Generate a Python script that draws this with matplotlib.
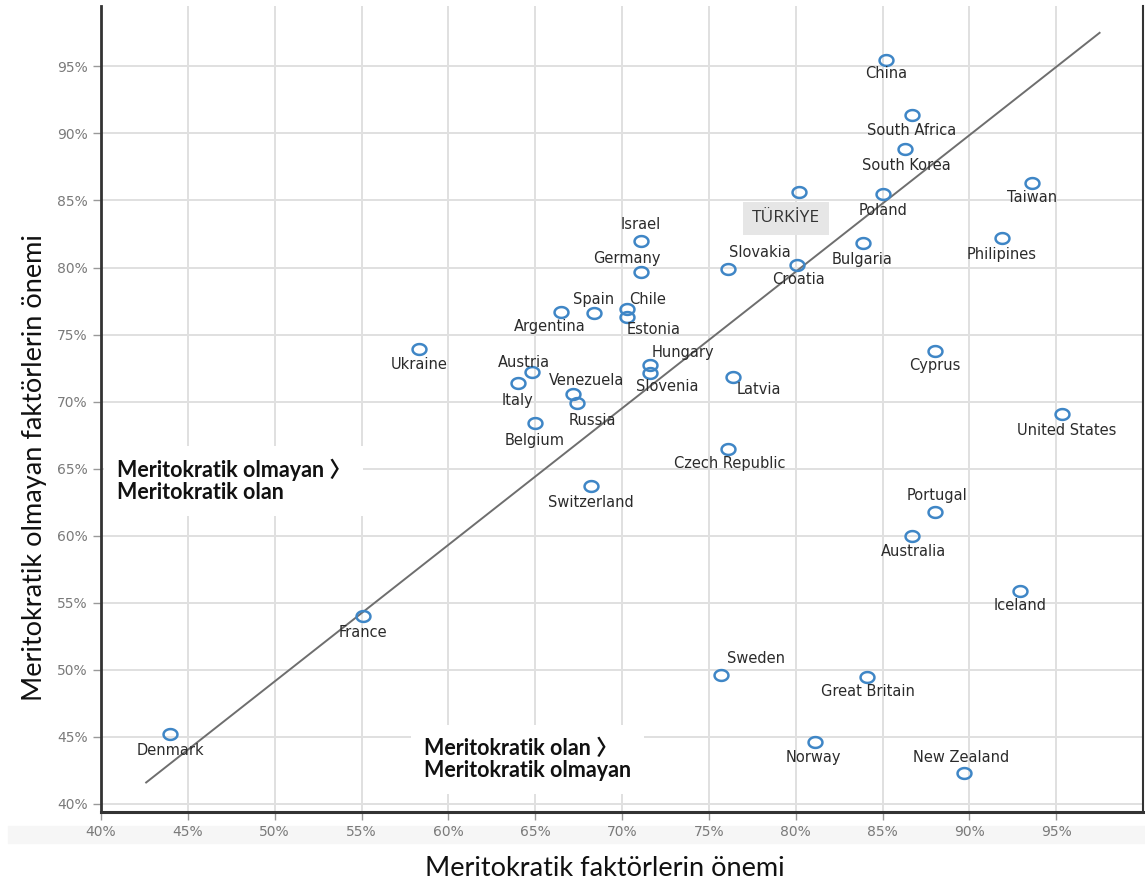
import numpy as np
import matplotlib.pyplot as plt
from matplotlib.path import Path
from matplotlib.patches import Rectangle

# --- Data (share of respondents, %) ---
countries = ['China', 'South Africa', 'South Korea', 'Taiwan', 'Poland', 'TÜRKİYE',
             'Bulgaria', 'Philipines', 'Slovakia', 'Croatia', 'Israel', 'Germany',
             'Spain', 'Chile', 'Estonia', 'Argentina', 'Ukraine', 'Austria', 'Italy',
             'Hungary', 'Slovenia', 'Venezuela', 'Russia', 'Belgium', 'Latvia',
             'Czech Republic', 'Cyprus', 'United States', 'Switzerland', 'Portugal',
             'Australia', 'Iceland', 'France', 'Sweden', 'Great Britain', 'Denmark',
             'Norway', 'New Zealand']
meritocratic = [85.2, 86.7, 86.3, 93.6, 85.0, 80.2,
                83.9, 91.9, 76.1, 80.1, 71.1, 71.1,
                68.4, 70.3, 70.3, 66.5, 58.3, 64.8, 64.0,
                71.6, 71.6, 67.2, 67.4, 65.0, 76.4,
                76.1, 88.0, 95.35, 68.2, 88.0,
                86.7, 92.9, 55.1, 75.7, 84.1, 44.0,
                81.1, 89.7]
non_meritocratic = [95.5, 91.4, 88.8, 86.3, 85.5, 85.6,
                    81.8, 82.2, 79.9, 80.2, 82.0, 79.7,
                    76.6, 76.9, 76.3, 76.7, 73.9, 72.2, 71.4,
                    72.7, 72.1, 70.6, 69.9, 68.4, 71.8,
                    66.5, 73.8, 69.1, 63.7, 61.8,
                    60.0, 55.9, 54.0, 49.6, 49.5, 45.2,
                    44.6, 42.3]
diag_x = [42.6, 97.5]
diag_y = [41.6, 97.5]
ticks = [40, 45, 50, 55, 60, 65, 70, 75, 80, 85, 90, 95]

# label offsets in pixels (dx right, dy down)
label_offsets = {
    'China': (0, 14), 'South Africa': (0, 16), 'South Korea': (1, 16), 'Taiwan': (0, 14),
    'Poland': (1, 17), 'Bulgaria': (-1, 16), 'Philipines': (-1, 16), 'Slovakia': (32, -16),
    'Croatia': (1, 15), 'Israel': (0, -16), 'Germany': (-14, -13), 'Spain': (-1, -14),
    'Chile': (20, -10), 'Estonia': (26, 12), 'Argentina': (-11, 15), 'Ukraine': (0, 15),
    'Austria': (-8, -10), 'Italy': (0, 18), 'Hungary': (33, -13), 'Slovenia': (17, 13),
    'Venezuela': (13, -13), 'Russia': (16, 18), 'Belgium': (-1, 17), 'Latvia': (26, 12),
    'Czech Republic': (2, 15), 'Cyprus': (0, 15), 'United States': (4, 17),
    'Switzerland': (0, 16), 'Portugal': (2, -16), 'Australia': (1, 16), 'Iceland': (0, 15),
    'France': (0, 16), 'Sweden': (35, -17), 'Great Britain': (1, 15), 'Denmark': (0, 16),
    'Norway': (-1, 15), 'New Zealand': (-3, -16),
}

# slightly flattened open circle marker
t = np.linspace(0, 2 * np.pi, 60)
ellipse = Path(np.column_stack([np.cos(t), 0.78 * np.sin(t)]), closed=True)

fig = plt.figure(figsize=(11.45, 8.86), dpi=100)
ax = fig.add_axes([101 / 1145, 1 - 812 / 886, 1042 / 1145, 806 / 886])
# faint band behind the x tick labels
band = Rectangle((0.007, 1 - 843 / 886), 0.993, 17 / 886, transform=fig.transFigure,
                 color='#f6f6f6', zorder=-5)
fig.add_artist(band)

ax.set_xlim(40, 100)
ax.set_ylim(39.4, 99.5)
ax.set_xticks(ticks)
ax.set_yticks(ticks)
ax.set_xticklabels([f'{v}%' for v in ticks])
ax.set_yticklabels([f'{v}%' for v in ticks])
ax.grid(True, color='#e0e0e0', linewidth=1.4)
ax.set_axisbelow(True)
ax.tick_params(axis='both', colors='#999999', labelcolor='#7a7a7a', labelsize=10,
               length=6, width=1)
for lbl in ax.get_xticklabels() + ax.get_yticklabels():
    lbl.set_family('DejaVu Sans')

ax.spines['top'].set_visible(False)
ax.spines['left'].set_color('#333333')
ax.spines['left'].set_linewidth(2)
ax.spines['bottom'].set_color('#333333')
ax.spines['bottom'].set_linewidth(2.2)
ax.spines['right'].set_color('#333333')
ax.spines['right'].set_linewidth(1.5)

ax.plot(diag_x, diag_y, color='#6e6e6e', linewidth=1.4, zorder=2)
ax.plot(meritocratic, non_meritocratic, linestyle='none', marker=ellipse,
        markersize=10, markerfacecolor='none', markeredgecolor='#3f86c6',
        markeredgewidth=1.8, zorder=3)

for name, xv, yv in zip(countries, meritocratic, non_meritocratic):
    if name == 'TÜRKİYE':
        ax.annotate(name, (xv, yv), xytext=(-13, -26), textcoords='offset pixels',
                    ha='center', va='center', fontsize=12.5, family='Open Sans',
                    color='#333333', zorder=4,
                    bbox=dict(boxstyle='square,pad=0.5', facecolor='#e6e6e6',
                              edgecolor='none'))
        continue
    dx, dy = label_offsets[name]
    ax.annotate(name, (xv, yv), xytext=(dx, -dy), textcoords='offset pixels',
                ha='center', va='center', fontsize=10.5, family='DejaVu Sans',
                color='#2b2b2b', zorder=4)

note_font = ['Lato', 'Noto Sans CJK SC', 'DejaVu Sans']
ax.text(40.9, 64.1, 'Meritokratik olmayan 〉\nMeritokratik olan',
        ha='left', va='center', fontsize=15.5, fontweight='bold', family=note_font,
        color='#111111', linespacing=1.05, zorder=5,
        bbox=dict(boxstyle='square,pad=0.6', facecolor='white', edgecolor='none'))
ax.text(58.6, 43.3, 'Meritokratik olan 〉\nMeritokratik olmayan',
        ha='left', va='center', fontsize=15.5, fontweight='bold', family=note_font,
        color='#111111', linespacing=1.05, zorder=5,
        bbox=dict(boxstyle='square,pad=0.6', facecolor='white', edgecolor='none'))

fig.text(605 / 1145, 1 - 868 / 886, 'Meritokratik faktörlerin önemi', ha='center',
         va='center', fontsize=19.5, family='Lato', color='#111111')
fig.text(35 / 1145, 1 - 468 / 886, 'Meritokratik olmayan faktörlerin önemi', ha='center',
         va='center', rotation=90, fontsize=19.5, family='Lato', color='#111111')

fig.savefig('out.png', dpi=100)
